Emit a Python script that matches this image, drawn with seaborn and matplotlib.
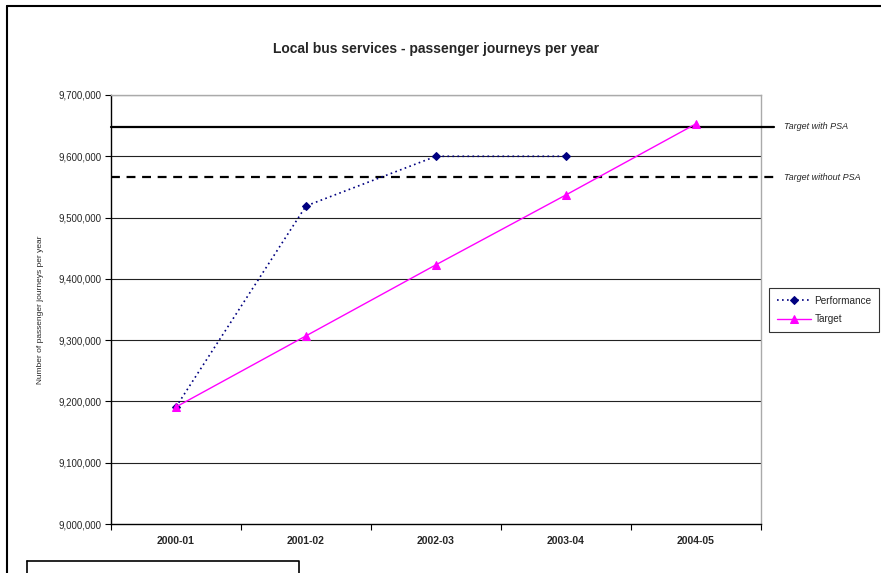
import matplotlib
matplotlib.use("Agg")
import matplotlib.pyplot as plt
from matplotlib.lines import Line2D
import seaborn as sns
import pandas as pd

years = ["2000-01", "2001-02", "2002-03", "2003-04", "2004-05"]
performance = [9191000, 9519000, 9600000, 9600000, None]
target = [9191000, 9307000, 9423000, 9537000, 9653000]
target_with_psa = 9648000
target_without_psa = 9566000
y_ticks = [9000000, 9100000, 9200000, 9300000, 9400000, 9500000, 9600000, 9700000]

sns.set_theme(style="white")
FONT = ["Liberation Sans Narrow", "Liberation Sans", "DejaVu Sans"]
plt.rcParams["font.family"] = FONT

fig = plt.figure(figsize=(8.81, 5.73), dpi=100)
ax = fig.add_axes([111/881, 1-524/573, 650/881, 429/573])

pos = list(range(len(years)))
df = pd.DataFrame({"pos": pos, "Performance": performance, "Target": target})
dperf = df.dropna(subset=["Performance"])

sns.lineplot(data=dperf, x="pos", y="Performance", ax=ax, color="#000080",
             linestyle=(0, (1, 2)), linewidth=1.2, marker="D", markersize=4,
             markeredgecolor="#000080", label="Performance", zorder=4)
sns.lineplot(data=df, x="pos", y="Target", ax=ax, color="#FF00FF",
             linestyle="-", linewidth=1, marker="^", markersize=6,
             markeredgecolor="#FF00FF", label="Target", zorder=5)

ax.set_xlim(-0.5, 4.5)
ax.set_ylim(9000000, 9700000)

# PSA reference lines extending slightly beyond the plot area
x_ext = 4.5 + 13/130
ax.plot([-0.5, x_ext], [target_with_psa]*2, color="black", lw=1.6,
        clip_on=False, zorder=3)
ax.plot([-0.5, x_ext], [target_without_psa]*2, color="black", lw=1.6,
        linestyle=(0, (4, 3)), clip_on=False, zorder=3)
x_lab = -0.5 + (784-111)/130
ax.text(x_lab, target_with_psa, "Target with PSA", fontsize=6.5, style="italic",
        va="center", ha="left", family=FONT)
ax.text(x_lab, target_without_psa, "Target without PSA", fontsize=6.5,
        style="italic", va="center", ha="left", family=FONT)

# grid
ax.set_yticks(y_ticks)
ax.set_yticklabels([f"{v:,}" for v in y_ticks], fontsize=7)
for v in y_ticks[1:]:
    ax.axhline(v, color="#222222", lw=0.8, zorder=1)

# x ticks: labels at centres, tick marks at boundaries
ax.set_xticks(pos)
ax.set_xticklabels(years, fontsize=7.5, fontweight="bold")
ax.tick_params(axis="x", which="major", length=0, pad=9)
ax.set_xticks([-0.5 + i for i in range(6)], minor=True)
ax.tick_params(axis="x", which="minor", length=4, width=0.8, color="black",
               direction="out", bottom=True)
ax.tick_params(axis="y", length=4, width=0.8, color="black", direction="out",
               left=True, pad=3)

ax.set_xlabel("")
ax.set_ylabel("Number of passenger journeys per year", fontsize=6, labelpad=10)

for side in ["left", "bottom"]:
    ax.spines[side].set_color("black")
    ax.spines[side].set_linewidth(1)
for side in ["top", "right"]:
    ax.spines[side].set_color("#aaaaaa")
    ax.spines[side].set_linewidth(1)

ax.set_title("Local bus services - passenger journeys per year", fontsize=10,
             fontweight="bold", pad=30)

leg = ax.legend(loc="upper left", bbox_to_anchor=(769/881, 1-288/573),
                bbox_transform=fig.transFigure, fontsize=7.2, frameon=True,
                fancybox=False, edgecolor="black", handlelength=3.4,
                handletextpad=0.4, borderpad=0.75, labelspacing=0.9,
                borderaxespad=0)
leg.get_frame().set_linewidth(0.8)

# outer frame and bottom-left box
fig.add_artist(Line2D([7/881, 1], [1-6/573, 1-6/573], color="black", lw=1.5,
                      transform=fig.transFigure))
fig.add_artist(Line2D([7/881, 7/881], [0, 1-6/573], color="black", lw=1.5,
                      transform=fig.transFigure))
fig.add_artist(Line2D([27/881, 299/881, 299/881], [1-561/573, 1-561/573, 0],
                      color="black", lw=1.2, transform=fig.transFigure))
fig.add_artist(Line2D([27/881, 27/881], [1-561/573, 0],
                      color="black", lw=1.2, transform=fig.transFigure))

fig.savefig("out.png", dpi=100)
